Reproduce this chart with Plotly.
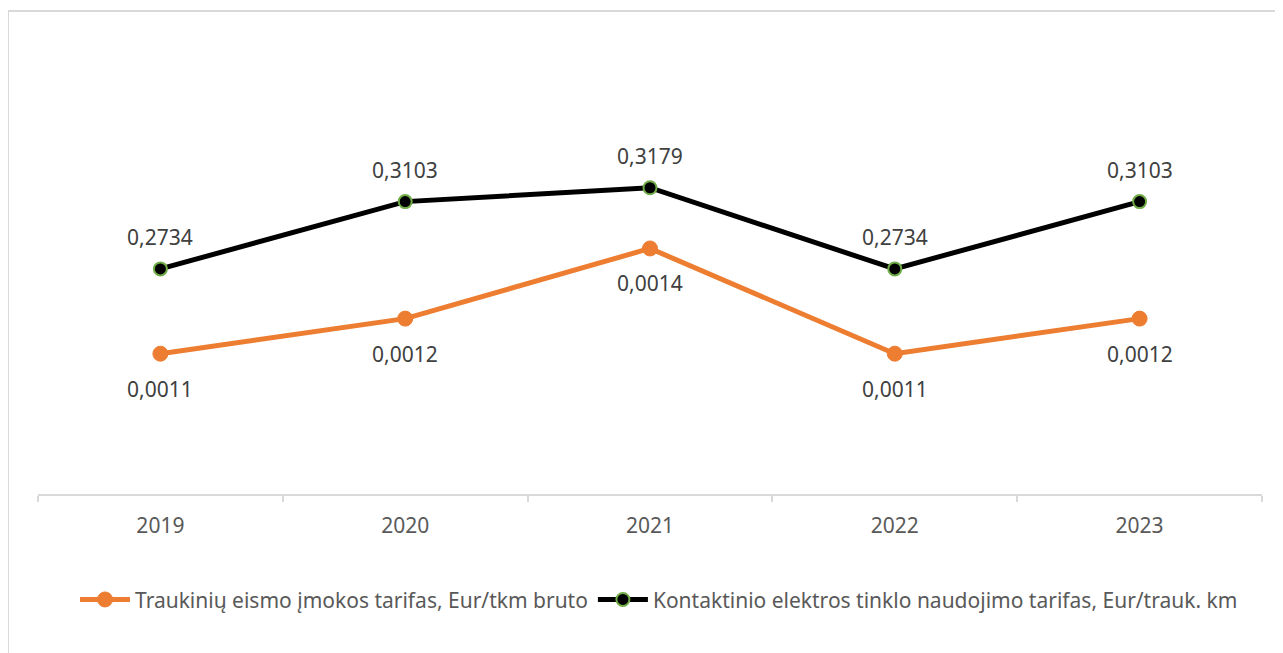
import plotly.graph_objects as go

years = ["2019", "2020", "2021", "2022", "2023"]
train_tariff = [0.0011, 0.0012, 0.0014, 0.0011, 0.0012]
catenary_tariff = [0.2734, 0.3103, 0.3179, 0.2734, 0.3103]
name_train = "Traukinių eismo įmokos tarifas, Eur/tkm bruto"
name_catenary = "Kontaktinio elektros tinklo naudojimo tarifas, Eur/trauk. km"

FONT = "Noto Sans"
TXT = "#595959"
LBL = "#404040"
FS = 21

fig = go.Figure()
fig.add_trace(go.Scatter(
    x=years, y=train_tariff, name=name_train, mode="lines+markers",
    line=dict(color="#ED7D31", width=5),
    marker=dict(color="#ED7D31", size=15, line=dict(color="#ED7D31", width=1)),
    yaxis="y", cliponaxis=False,
))
fig.add_trace(go.Scatter(
    x=years, y=catenary_tariff, name=name_catenary, mode="lines+markers",
    line=dict(color="#000000", width=5),
    marker=dict(color="#000000", size=13, line=dict(color="#70AD47", width=2)),
    yaxis="y2", cliponaxis=False,
))

annotations = []
for i, v in enumerate(train_tariff):
    annotations.append(dict(x=i, y=v, xref="x", yref="y", text=f"{v:.4f}".replace(".", ","),
                            showarrow=False, yshift=-35, xanchor="center", yanchor="middle",
                            font=dict(family=FONT, size=FS, color=LBL)))
for i, v in enumerate(catenary_tariff):
    annotations.append(dict(x=i, y=v, xref="x", yref="y2", text=f"{v:.4f}".replace(".", ","),
                            showarrow=False, yshift=32, xanchor="center", yanchor="middle",
                            font=dict(family=FONT, size=FS, color=LBL)))

# page has an 8px body margin; figure sized so it fits the 1283x653 window
W, H = 1275, 645
fig.update_layout(
    width=W, height=H,
    margin=dict(l=30, r=21, t=30, b=159),
    paper_bgcolor="white", plot_bgcolor="white",
    separators=", ",
    font=dict(family=FONT, size=FS, color=TXT),
    xaxis=dict(
        type="category", range=[-0.5, 4.5],
        showline=True, linecolor="#d9d9d9", linewidth=2,
        ticks="outside", tickson="boundaries", ticklen=6, tickcolor="#d9d9d9", tickwidth=2,
        showgrid=False, zeroline=False, ticklabelstandoff=12,
        tickfont=dict(family=FONT, size=FS, color=TXT),
    ),
    yaxis=dict(range=[0.0007, 0.0020], visible=False, showgrid=False, zeroline=False),
    yaxis2=dict(range=[0.15, 0.40], overlaying="y", side="right", visible=False,
                showgrid=False, zeroline=False),
    showlegend=True,
    legend=dict(orientation="h", x=0.5 + 9/1224, xanchor="center", y=-0.232, yanchor="middle",
                font=dict(family=FONT, size=FS, color=TXT), itemwidth=50,
                bgcolor="rgba(0,0,0,0)"),
    annotations=annotations,
    shapes=[dict(type="rect", xref="paper", yref="paper",
                 x0=-30/1224, x1=1.2, y0=-1.0, y1=(486-3)/456,
                 line=dict(color="#d9d9d9", width=2), fillcolor="rgba(0,0,0,0)", layer="below")],
)

fig.write_html("out.html")
